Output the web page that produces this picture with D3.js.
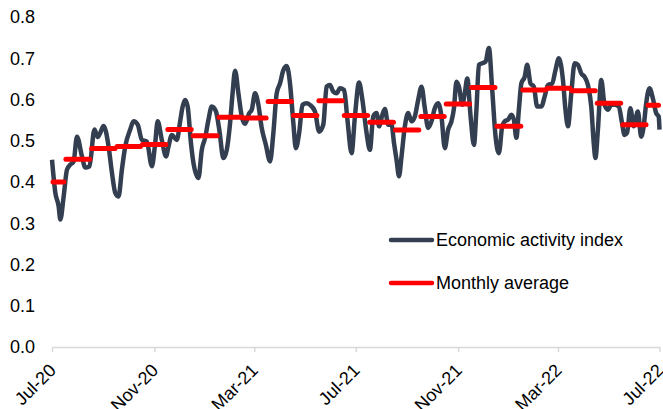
<!DOCTYPE html>
<html>
<head>
<meta charset="utf-8">
<title>Economic activity index</title>
<script src="https://cdn.jsdelivr.net/npm/d3@7"></script>
<style>
  body { margin: 0; background: #fff; }
  svg text { font-family: "Liberation Sans", Arial, sans-serif; font-size: 18px; fill: #000; }
</style>
</head>
<body>
<svg id="chart" width="663" height="409"></svg>
<script>
// days since 1 Jul 2020 and the index value read at that day
var indexDays = [0,4,8,10,14,18,22,26,30,36,40,45,51,55,58,62,68,72,76,80,84,88,94,98,103,108,114,120,124,127,132,137,140,144,150,154,157,160,163,167,
  170,176,180,184,188,192,197,201,206,210,214,217,220,224,228,232,237,240,244,248,252,257,262,266,270,274,278,282,286,290,293,297,301,306,310,316,321,326,330,334,338,342,346,351,
  355,360,364,369,373,378,382,386,390,393,397,400,404,408,411,414,417,420,424,428,432,436,440,444,448,452,456,460,464,468,472,476,480,483,486,489,493,496,499,503,507,510,513,517,521,525,529,533,
  537,541,544,548,552,555,558,561,564,568,571,575,579,583,588,592,596,601,605,609,614,617,620,624,628,632,636,640,644,648,651,653,656,660,664,668,672,676,681,685,688,691,695,699,704,708,711,714,718,722,726,729,730];
var indexValues = [0.454,0.374,0.341,0.309,0.365,0.43,0.442,0.45,0.51,0.462,0.435,0.438,0.527,0.509,0.519,0.536,0.486,0.423,0.374,0.365,0.43,0.486,0.527,0.547,0.539,0.502,0.498,0.438,0.494,0.547,0.502,0.462,0.486,0.514,0.502,0.547,0.583,0.599,0.583,0.494,
  0.446,0.41,0.478,0.507,0.551,0.583,0.571,0.527,0.458,0.478,0.543,0.615,0.67,0.615,0.559,0.541,0.567,0.575,0.615,0.587,0.531,0.49,0.45,0.519,0.615,0.639,0.671,0.681,0.639,0.543,0.482,0.519,0.587,0.591,0.587,0.571,0.522,0.539,0.631,0.635,0.619,0.615,0.627,0.623,
  0.551,0.47,0.559,0.641,0.599,0.519,0.478,0.559,0.567,0.535,0.563,0.577,0.539,0.539,0.494,0.454,0.414,0.462,0.535,0.567,0.547,0.559,0.599,0.631,0.579,0.531,0.547,0.579,0.591,0.559,0.482,0.527,0.547,0.579,0.643,0.631,0.587,0.615,0.651,0.559,0.49,0.575,0.684,0.688,0.692,0.725,0.623,0.51,
  0.47,0.535,0.547,0.551,0.563,0.551,0.507,0.575,0.639,0.655,0.684,0.639,0.631,0.583,0.583,0.607,0.635,0.639,0.671,0.7,0.647,0.575,0.535,0.615,0.688,0.684,0.663,0.655,0.635,0.583,0.494,0.458,0.527,0.647,0.587,0.575,0.587,0.587,0.583,0.543,0.514,0.519,0.579,0.535,0.571,0.51,0.535,0.591,0.627,0.603,0.567,0.559,0.527];

// monthly averages, Jul-20 .. Jul-22
var avgMonths = ["Jul-20","Aug-20","Sep-20","Oct-20","Nov-20","Dec-20","Jan-21","Feb-21","Mar-21","Apr-21","May-21","Jun-21","Jul-21",
  "Aug-21","Sep-21","Oct-21","Nov-21","Dec-21","Jan-22","Feb-22","Mar-22","Apr-22","May-22","Jun-22","Jul-22"];
var avgValues = [0.40,0.455,0.481,0.486,0.491,0.527,0.512,0.557,0.555,0.595,0.561,0.597,0.561,
  0.545,0.526,0.559,0.589,0.629,0.535,0.623,0.627,0.621,0.591,0.539,0.586];

var tickLabels = ["Jul-20","Nov-20","Mar-21","Jul-21","Nov-21","Mar-22","Jul-22"];
var yTicks = [0,0.1,0.2,0.3,0.4,0.5,0.6,0.7,0.8];

var parseMonth = d3.timeParse("%b-%y");
var startDate = parseMonth("Jul-20"), endDate = parseMonth("Jul-22");

var svg = d3.select("#chart");
var x = d3.scaleTime().domain([startDate, endDate]).range([52, 659.5]);
var y = d3.scaleLinear().domain([0, 0.8]).range([347, 17]);

// y labels
svg.append("g").selectAll("text")
  .data(yTicks).enter().append("text")
  .attr("x", 35).attr("y", function(d){ return y(d); })
  .attr("dy", "0.35em").attr("text-anchor", "end")
  .text(function(d){ return d3.format(".1f")(d); });

// x axis
var xAxis = svg.append("g").attr("transform", "translate(0,347)")
  .call(d3.axisBottom(x).tickValues(tickLabels.map(parseMonth)).tickSize(5).tickSizeOuter(0).tickFormat(d3.timeFormat("%b-%y")));
xAxis.select(".domain").attr("stroke", "#d9d9d9").attr("stroke-width", 1.5);
xAxis.selectAll(".tick line").attr("stroke", "#d9d9d9").attr("stroke-width", 1.5);
xAxis.selectAll(".tick text")
  .attr("font-size", null).attr("font-family", null)
  .attr("text-anchor", "end").attr("x", 0).attr("y", 0).attr("dy", "0.35em")
  .attr("transform", "translate(0,20) rotate(-45)");

// index line
var series = indexDays.map(function(d, i){ return { date: d3.timeDay.offset(startDate, d), v: indexValues[i] }; });
var line = d3.line().curve(d3.curveMonotoneX)
  .x(function(d){ return x(d.date); }).y(function(d){ return y(d.v); });
svg.append("path").datum(series)
  .attr("fill", "none").attr("stroke", "#333f50").attr("stroke-width", 4.5)
  .attr("stroke-linejoin", "round").attr("d", line);

// monthly average dashes, centred on the first of each month
var avg = avgMonths.map(function(m, i){
  var d = parseMonth(m);
  var prev = d3.timeMonth.offset(d, -1), next = d3.timeMonth.offset(d, 1);
  var a = new Date((prev.getTime() + d.getTime()) / 2);
  var b = new Date((d.getTime() + next.getTime()) / 2);
  if (a < startDate) a = startDate;
  if (b > endDate) b = endDate;
  return { a: a, b: b, v: avgValues[i] };
});
svg.append("g").selectAll("line")
  .data(avg).enter().append("line")
  .attr("x1", function(d){ return x(d.a) + 1; })
  .attr("x2", function(d){ return x(d.b) - 1; })
  .attr("y1", function(d){ return y(d.v); })
  .attr("y2", function(d){ return y(d.v); })
  .attr("stroke", "#ff0000").attr("stroke-width", 5).attr("stroke-linecap", "round");

// legend
var legend = [
  { name: "Economic activity index", color: "#333f50", y: 240 },
  { name: "Monthly average", color: "#ff0000", y: 283 }
];
var lg = svg.append("g").selectAll("g").data(legend).enter().append("g");
lg.append("line")
  .attr("x1", 391).attr("x2", 432)
  .attr("y1", function(d){ return d.y; }).attr("y2", function(d){ return d.y; })
  .attr("stroke", function(d){ return d.color; }).attr("stroke-width", 4.5).attr("stroke-linecap", "round");
lg.append("text")
  .attr("x", 436).attr("y", function(d){ return d.y; }).attr("dy", "0.35em")
  .text(function(d){ return d.name; });
</script>
</body>
</html>
